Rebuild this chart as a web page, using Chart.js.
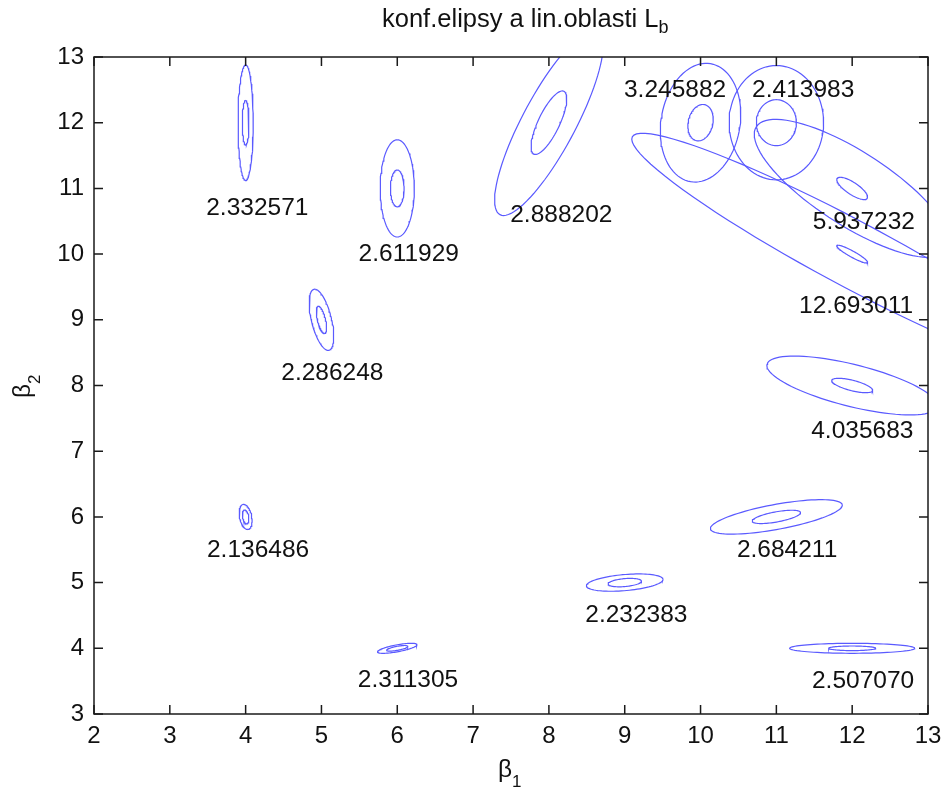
<!DOCTYPE html>
<html>
<head>
<meta charset="utf-8">
<script src="https://cdn.jsdelivr.net/npm/chart.js@4.4.0/dist/chart.umd.min.js"></script>
<style>
    html, body { margin: 0; padding: 0; background: #fff; }
</style>
</head>
<body>
<canvas id="graficoElipsy" width="946" height="789"></canvas>
<script>
// --- data ---
const centersX = [4, 6, 8, 10, 11, 12, 12, 5, 12, 4, 11, 9, 6, 12];
const centersY = [12, 11, 12, 12, 12, 11, 10, 9, 8, 6, 6, 5, 4, 4];
const labels = ['2.332571', '2.611929', '2.888202', '3.245882', '2.413983', '5.937232', '12.693011',
    '2.286248', '4.035683', '2.136486', '2.684211', '2.232383', '2.311305', '2.507070'];
const labelX = [3.48, 5.49, 7.49, 8.99, 10.68, 11.48, 11.30, 4.47, 11.46, 3.49, 10.48, 8.48, 5.48, 11.47];
const labelY = [10.70, 10.00, 10.59, 12.49, 12.49, 10.49, 9.21, 8.18, 7.30, 5.50, 5.50, 4.51, 3.51, 3.50];

// linearization regions (outer) - semi-axis vectors u, v
const outerUX = [0, 0, 0.645, 0.132, 0, 1.264, 2.90, 0.099, 1.123, 0.034, 0.869, 0.505, 0.26, 0.825];
const outerUY = [0.88, 0.74, 1.40, 0.898, 0.87, -0.938, -1.785, -0.464, -0.323, -0.19, 0.184, 0.05, 0.056, 0];
const outerVX = [0.10, 0.225, 0.311, 0.514, 0.623, -0.264, -0.204, 0.128, -0.067, 0.078, 0.03, 0.009, 0.008, 0];
const outerVY = [0, 0, -0.19, -0.10, 0, -0.473, -0.443, 0.037, -0.31, 0.018, -0.187, -0.122, -0.052, 0.076];

// confidence ellipses (inner)
const innerUX = [0, 0, 0.198, 0.055, 0, 0.198, 0.202, 0.044, 0.269, 0.018, 0.318, 0.22, 0.14, 0.31];
const innerUY = [0.34, 0.28, 0.478, 0.274, 0.35, -0.152, -0.129, -0.207, -0.078, -0.105, 0.067, 0.023, 0.03, 0];
const innerVX = [0.044, 0.09, 0.127, 0.158, 0.264, -0.044, -0.02, 0.051, -0.017, 0.039, 0.012, 0.005, 0.005, 0];
const innerVY = [0, 0, -0.07, -0.043, 0, -0.076, -0.04, 0.015, -0.077, 0.009, -0.076, -0.06, -0.03, 0.035];

const FONT = '"Liberation Sans", Arial, sans-serif';
const LINE = 'rgb(90, 90, 255)';

function elipsa(i, ux, uy, vx, vy) {
    const pts = [];
    const n = 90;
    for (let k = 0; k <= n; k++) {
        const t = 2 * Math.PI * k / n;
        pts.push({
            x: centersX[i] + ux[i] * Math.cos(t) + vx[i] * Math.sin(t),
            y: centersY[i] + uy[i] * Math.cos(t) + vy[i] * Math.sin(t)
        });
    }
    return pts;
}

const datasets = [];
centersX.forEach((c, i) => {
    datasets.push({ data: elipsa(i, outerUX, outerUY, outerVX, outerVY) });
    datasets.push({ data: elipsa(i, innerUX, innerUY, innerVX, innerVY) });
});

// box, inner ticks, texts
const popisky = {
    id: 'popisky',
    afterDraw(chart) {
        const ctx = chart.ctx;
        const a = chart.chartArea;
        const xs = chart.scales.x, ys = chart.scales.y;
        ctx.save();
        ctx.strokeStyle = '#1a1a1a';
        ctx.lineWidth = 1.5;
        ctx.strokeRect(a.left, a.top, a.right - a.left, a.bottom - a.top);
        ctx.beginPath();
        xs.ticks.forEach(t => {
            const p = xs.getPixelForValue(t.value);
            ctx.moveTo(p, a.bottom); ctx.lineTo(p, a.bottom - 9);
            ctx.moveTo(p, a.top); ctx.lineTo(p, a.top + 9);
        });
        ys.ticks.forEach(t => {
            const p = ys.getPixelForValue(t.value);
            ctx.moveTo(a.left, p); ctx.lineTo(a.left + 9, p);
            ctx.moveTo(a.right, p); ctx.lineTo(a.right - 9, p);
        });
        ctx.stroke();

        ctx.fillStyle = '#111';
        ctx.textAlign = 'left';
        ctx.textBaseline = 'middle';
        ctx.font = '24.5px ' + FONT;
        labels.forEach((s, i) => {
            ctx.fillText(s, xs.getPixelForValue(labelX[i]), ys.getPixelForValue(labelY[i]));
        });

        // title
        ctx.textBaseline = 'alphabetic';
        const tit = 'konf.elipsy a lin.oblasti L';
        ctx.font = '25.5px ' + FONT;
        ctx.fillText(tit, 382, 27);
        const w = ctx.measureText(tit).width;
        ctx.font = '18px ' + FONT;
        ctx.fillText('b', 382 + w, 33);

        // x label
        ctx.font = '24.5px ' + FONT;
        ctx.fillText('β', 498, 777);
        const wb = ctx.measureText('β').width;
        ctx.font = '17px ' + FONT;
        ctx.fillText('1', 498 + wb, 787);

        // y label
        ctx.translate(30, 398);
        ctx.rotate(-Math.PI / 2);
        ctx.font = '24.5px ' + FONT;
        ctx.fillText('β', 0, 0);
        ctx.font = '17px ' + FONT;
        ctx.fillText('2', wb, 10);
        ctx.restore();
    }
};

new Chart(document.getElementById('graficoElipsy'), {
    type: 'scatter',
    data: { datasets: datasets },
    options: {
        responsive: false,
        animation: false,
        showLine: true,
        elements: {
            point: { radius: 0, hoverRadius: 0 },
            line: { borderColor: LINE, borderWidth: 1.2, tension: 0, fill: false }
        },
        layout: { padding: { top: 57, right: 18, left: 0, bottom: 0 } },
        plugins: {
            legend: { display: false },
            tooltip: { enabled: false },
            title: { display: false }
        },
        scales: {
            x: {
                type: 'linear',
                min: 2, max: 13,
                grid: { display: false },
                border: { display: false },
                ticks: { stepSize: 1, color: '#111', font: { size: 24, family: FONT }, padding: 0, maxRotation: 0 },
                afterFit: (scale) => {
                    scale.height = 75;
                    scale.paddingLeft = 0;
                    scale.paddingRight = 0;
                }
            },
            y: {
                type: 'linear',
                min: 3, max: 13,
                grid: { display: false },
                border: { display: false },
                ticks: { stepSize: 1, color: '#111', font: { size: 24, family: FONT }, padding: 2 },
                afterFit: (scale) => {
                    scale.width = 94;
                    scale.paddingTop = 0;
                    scale.paddingBottom = 0;
                }
            }
        }
    },
    plugins: [popisky]
});
</script>
</body>
</html>
